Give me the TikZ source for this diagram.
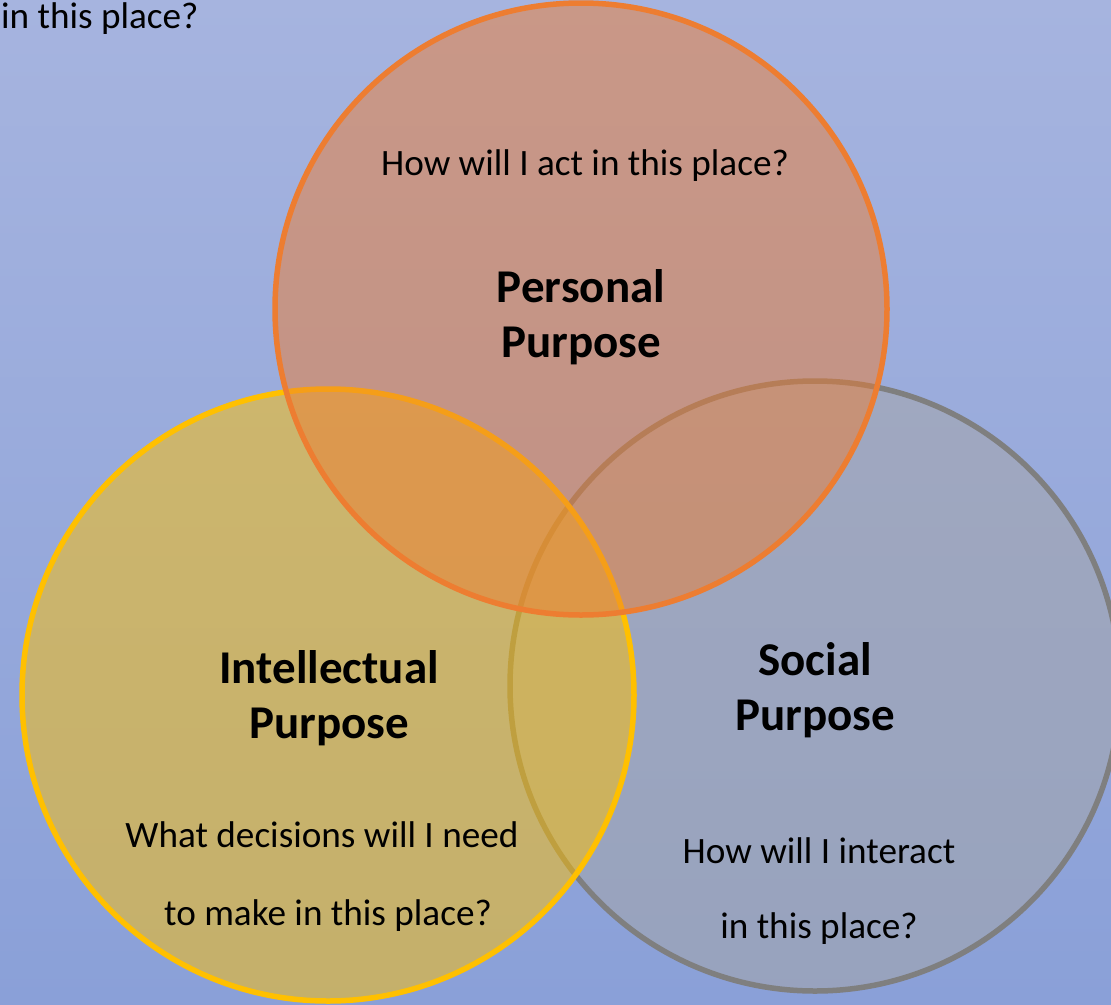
\documentclass[tikz,border=0pt]{standalone}
\usepackage{fontspec}
\setmainfont{Carlito}
\definecolor{bgtop}{HTML}{A6B4DF}
\definecolor{bgbot}{HTML}{8AA0D8}
\definecolor{corange}{HTML}{ED7D31}
\definecolor{cyellow}{HTML}{FFC000}
\definecolor{cgreyline}{HTML}{7F7F7F}
\definecolor{cgreyfill}{HTML}{A5A5A5}
\tikzset{
  txt/.style={anchor=base, inner sep=0pt, font=\fontsize{37.2}{44}\selectfont, text=black},
  ttl/.style={anchor=base, inner sep=0pt, font=\fontsize{47}{55}\selectfont\bfseries, text=black},
  ring/.style={line width=5.5pt},
}
\begin{document}
\begin{tikzpicture}[x=1pt,y=-1pt]
\useasboundingbox (0,0) rectangle (1111,1004);
\clip (0,0) rectangle (1111,1004);
\shade[top color=bgtop, bottom color=bgbot] (0,0) rectangle (1111,1004);
% Social (grey)
\fill[cgreyfill, fill opacity=0.5] (815,686) circle[radius=305pt];
\draw[ring, cgreyline] (815,686) circle[radius=305pt];
% Intellectual (yellow)
\fill[cyellow, fill opacity=0.5] (328,695) circle[radius=306pt];
\draw[ring, cyellow] (328,695) circle[radius=306pt];
% Personal (orange)
\fill[corange, fill opacity=0.5] (581,309) circle[radius=306pt];
\draw[ring, corange] (581,309) circle[radius=306pt];
% texts
\node[txt, anchor=base west] (top) at (1,28) {in this place?};
\node[txt] (act) at (585,175) {How will I act in this place?};
\node[ttl] (pers1) at (581,302) {Personal};
\node[ttl] (pers2) at (581,357) {Purpose};
\node[ttl] (int1) at (329,683) {Intellectual};
\node[ttl] (int2) at (329,738) {Purpose};
\node[ttl] (soc1) at (815,675) {Social};
\node[ttl] (soc2) at (815,730) {Purpose};
\node[txt] (dec1) at (322,847) {What decisions will I need};
\node[txt] (dec2) at (328,925) {to make in this place?};
\node[txt] (ia1) at (819,863) {How will I interact};
\node[txt] (ia2) at (819,938) {in this place?};
\end{tikzpicture}
\end{document}
